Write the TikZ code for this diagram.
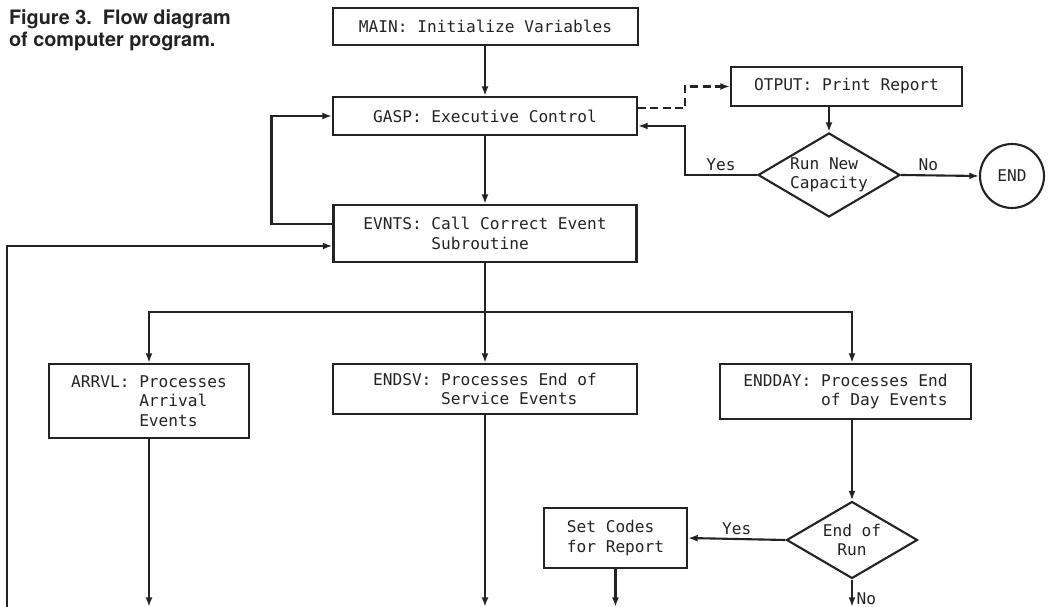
\documentclass[tikz,border=0pt]{standalone}
\usepackage{fontspec}
\newfontfamily\monofont{DejaVu Sans Mono}
\newfontfamily\capfont{TeX Gyre Heros}
\usepackage{tikz}
\usetikzlibrary{positioning, arrows.meta, shapes.geometric}
\definecolor{ink}{RGB}{35,35,35}

\begin{document}
\begin{tikzpicture}[x=0.02cm, y=-0.02cm, color=ink, line width=1.2pt,
  box/.style={draw, rectangle, inner sep=0pt, align=left, font=\monofont\fontsize{9.2}{11}\selectfont},
  dec/.style={draw, diamond, aspect=1.7, inner sep=0pt, align=left, font=\monofont\fontsize{9.2}{11}\selectfont},
  term/.style={draw, circle, inner sep=0pt, minimum size=1.28cm, font=\monofont\fontsize{9.2}{11}\selectfont},
  lbl/.style={inner sep=2pt, font=\monofont\fontsize{9.2}{11}\selectfont},
  title/.style={anchor=north west, align=left, inner sep=0pt, font=\capfont\bfseries\fontsize{11.3}{12.5}\selectfont},
  flow/.style={-{Latex[length=5.5pt,width=4pt]}},
  dashline/.style={dash pattern=on 4.5pt off 2.5pt}]
\useasboundingbox (0,0) rectangle (1048,607);

% Caption
\node[title] (title) at (8,9) {Figure 3.\ \ Flow diagram\\of computer program.};

% Executive column
\node[box, minimum width=6.1cm, minimum height=0.74cm] (main) at (485.5,26.5) {MAIN: Initialize Variables};
\node[box, minimum width=6.08cm, minimum height=0.76cm] (gasp) at (485,116) {GASP: Executive Control};
\node[box, minimum width=6.06cm, minimum height=1.14cm] (evnts) at (485,233.5) {EVNTS: Call Correct Event\\\hphantom{EVNTS: }Subroutine};

% Report and restart
\node[box, minimum width=4.62cm, minimum height=0.78cm] (otput) at (846.5,86.5) {OTPUT: Print Report};
\node[dec, minimum width=2.84cm, minimum height=1.68cm] (newcap) at (829,175) {Run New\\Capacity};
\node[term] (fin) at (1012,176) {END};

% Event subroutines
\node[box, minimum width=4cm, minimum height=1.48cm] (arrvl) at (149,401) {ARRVL: Processes\\\hphantom{ARRVL: }Arrival\\\hphantom{ARRVL: }Events};
\node[box, minimum width=6.08cm, minimum height=1cm] (endsv) at (485,389) {ENDSV: Processes End of\\\hphantom{ENDSV: }Service Events};
\node[box, minimum width=5.02cm, minimum height=1.1cm] (endday) at (845.5,391.5) {ENDDAY: Processes End\\\hphantom{ENDDAY: }of Day Events};
\node[dec, align=center, minimum width=2.62cm, minimum height=1.54cm] (endrun) at (852,540) {End of\\Run};
\node[box, minimum width=2.86cm, minimum height=1.2cm] (codes) at (615.5,538) {Set Codes\\for Report};

\coordinate (bus) at (485,312);
\coordinate (bend) at (685,0);
\coordinate (bot) at (0,607);
\coordinate (ret) at (7,608);

% Main flow
\draw[flow] (main.south -| gasp.north) -- (gasp.north);
\draw[flow] (gasp.south) -- (evnts.north);
\draw[flow] ([yshift=0.19cm]evnts.west) -- ++(-61,0) |- (gasp.west);
\draw (evnts.south) -- (bus);
\draw[flow] (bus) -| (arrvl.north);
\draw[flow] (bus) -- (endsv.north);
\draw[flow] (bus) -| (endday.north -| endrun.north);
\draw[flow] (endday.south -| endrun.north) -- (endrun.north);
\draw[flow] (endrun.west) -- node[lbl, above] {Yes} (codes.east);
\draw[flow] (endrun.south) -- node[lbl, right, pos=0.7] {No} (endrun.south |- bot);
\draw[flow] (codes.south) -- (codes.south |- bot);
\draw[flow] (arrvl.south) -- (arrvl.south |- bot);
\draw[flow] (endsv.south) -- (endsv.south |- bot);
% back to EVNTS along the bottom
\draw[flow] (endrun.south |- ret) -- (ret) |- ([yshift=-0.25cm]evnts.west);

% Report branch
\draw[flow, dashline] ([yshift=0.16cm]gasp.east) -- ([yshift=0.16cm]gasp.east -| bend) |- (otput.west);
\draw[flow] (otput.south -| newcap.north) -- (newcap.north);
\draw[flow] (newcap.west) -- node[lbl, above] {Yes} (newcap.west -| bend) |- ([yshift=-0.2cm]gasp.east);
\draw[flow] (newcap.east) -- node[lbl, above, pos=0.35] {No} (fin.west);
\end{tikzpicture}
\end{document}
